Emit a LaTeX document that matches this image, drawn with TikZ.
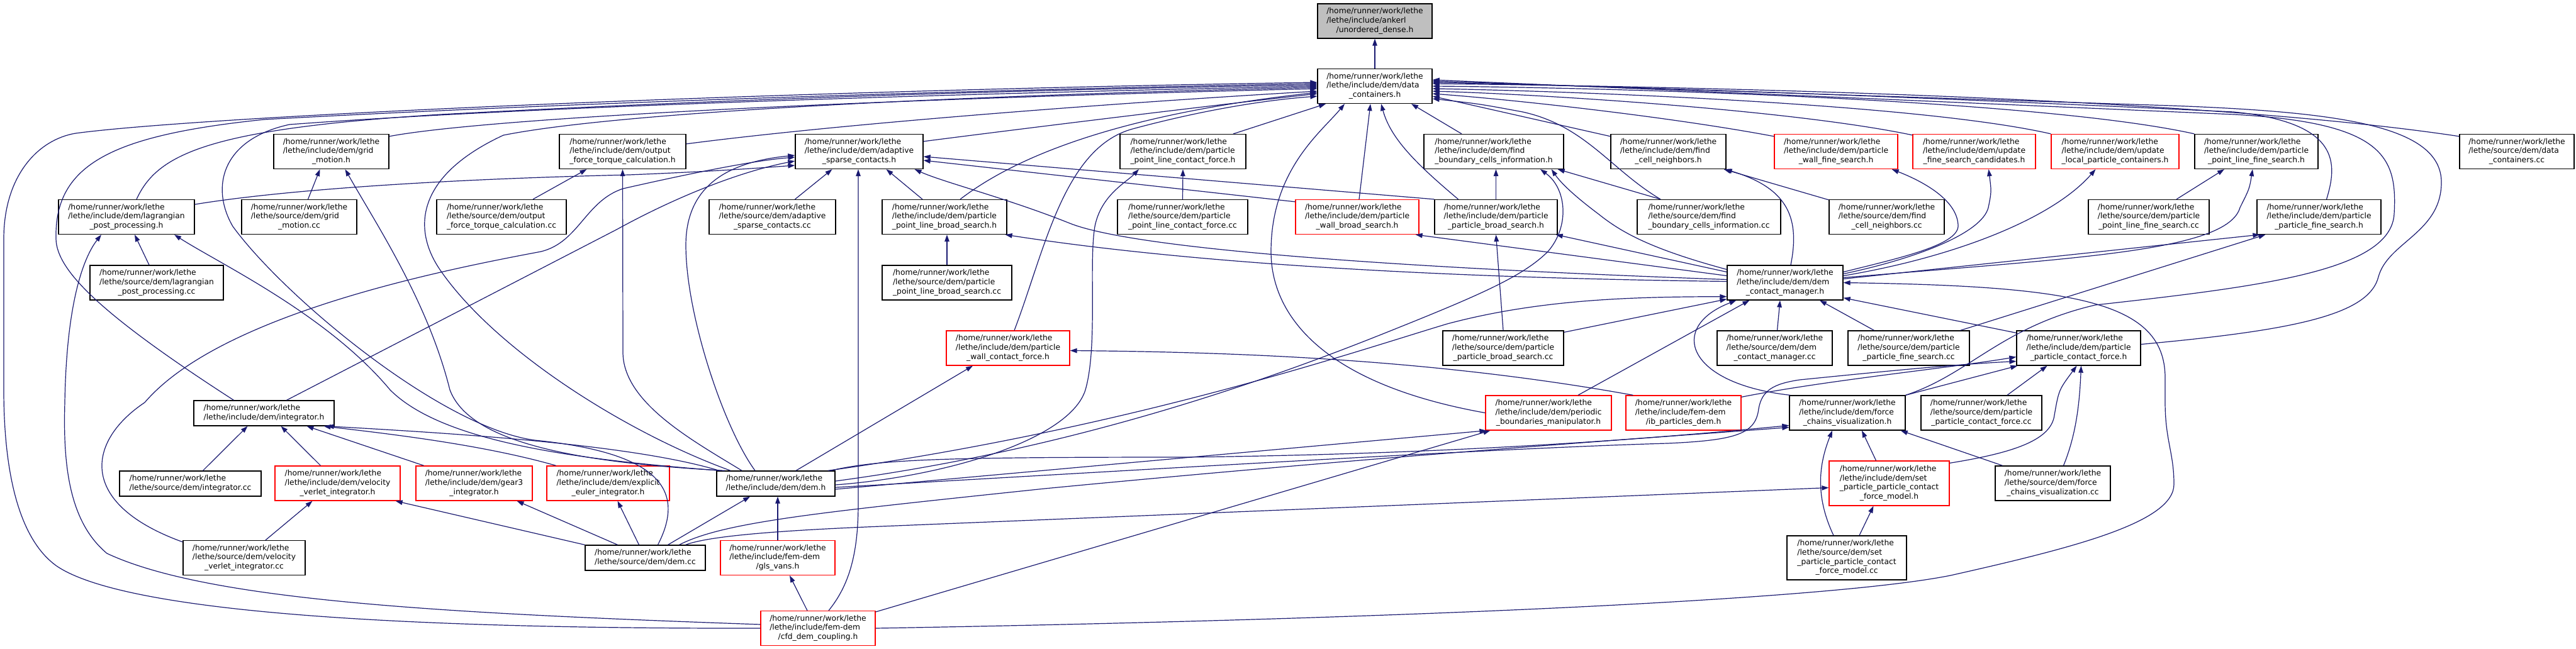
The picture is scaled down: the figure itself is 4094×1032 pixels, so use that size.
\documentclass[tikz,border=0pt]{standalone}
\usepackage{fontspec}
\setmainfont{DejaVu Sans}
\usetikzlibrary{arrows.meta}
\definecolor{edgeblue}{HTML}{191970}
\definecolor{nodegray}{HTML}{BFBFBF}
\newcommand\hm{/home/runner/work/lethe}
\newcommand\lbA[3]{\begin{tabular}{@{}l@{}}#1\\#2\\\multicolumn{1}{@{}c@{}}{#3}\end{tabular}}
\newcommand\lbB[2]{\begin{tabular}{@{}l@{}}#1\\#2\end{tabular}}
\newcommand\lbD[4]{\begin{tabular}{@{}l@{}}#1\\#2\\#3\\\multicolumn{1}{@{}c@{}}{#4}\end{tabular}}
\newcommand\nfont{\fontsize{12.3}{14.7}\selectfont}
\tikzset{
 nbox/.style={draw=black, fill=white, line width=1.3pt, inner sep=0pt, font=\nfont, minimum height=55pt, text=black},
 rbox/.style={nbox, draw=red},
 gbox/.style={nbox, fill=nodegray},
 dep/.style={draw=edgeblue, line width=1.2pt, -{Triangle[length=11pt,width=7.5pt]}}
}
\begin{document}
\begin{tikzpicture}[x=1pt,y=-1pt]
\useasboundingbox (0,0) rectangle (4094,1032);
\fill[white] (0,0) rectangle (4094,1032);
% ---------------- nodes
\node[gbox,minimum width=182pt] (ud) at (2185,33.5) {\lbA{\hm}{/lethe/include/ankerl}{/unordered\_dense.h}};
\node[nbox,minimum width=182pt] (dc) at (2185,137) {\lbA{\hm}{/lethe/include/dem/data}{\_containers.h}};
% row 2
\node[nbox,minimum width=183pt] (gm) at (526.5,241) {\lbA{\hm}{/lethe/include/dem/grid}{\_motion.h}};
\node[nbox,minimum width=201pt] (oftc) at (989.5,241) {\lbA{\hm}{/lethe/include/dem/output}{\_force\_torque\_calculation.h}};
\node[nbox,minimum width=203pt] (asc) at (1365.5,241) {\lbA{\hm}{/lethe/include/dem/adaptive}{\_sparse\_contacts.h}};
\node[nbox,minimum width=200pt] (plcf) at (1880,241) {\lbA{\hm}{/lethe/include/dem/particle}{\_point\_line\_contact\_force.h}};
\node[nbox,minimum width=222pt] (fbci) at (2374,241) {\lbA{\hm}{/lethe/include/dem/find}{\_boundary\_cells\_information.h}};
\node[nbox,minimum width=183pt] (fcn) at (2651.5,241) {\lbA{\hm}{/lethe/include/dem/find}{\_cell\_neighbors.h}};
\node[rbox,minimum width=196pt] (pwfs) at (2918,241) {\lbA{\hm}{/lethe/include/dem/particle}{\_wall\_fine\_search.h}};
\node[rbox,minimum width=195pt] (ufsc) at (3137.5,241) {\lbA{\hm}{/lethe/include/dem/update}{\_fine\_search\_candidates.h}};
\node[rbox,minimum width=203pt] (ulpc) at (3361.5,241) {\lbA{\hm}{/lethe/include/dem/update}{\_local\_particle\_containers.h}};
\node[nbox,minimum width=196pt] (plfs) at (3586,241) {\lbA{\hm}{/lethe/include/dem/particle}{\_point\_line\_fine\_search.h}};
\node[nbox,minimum width=182pt] (dccc) at (4000,241) {\lbA{\hm}{/lethe/source/dem/data}{\_containers.cc}};
% row 3
\node[nbox,minimum width=216pt] (lpp) at (201,345) {\lbA{\hm}{/lethe/include/dem/lagrangian}{\_post\_processing.h}};
\node[nbox,minimum width=183pt] (gmcc) at (475.5,345) {\lbA{\hm}{/lethe/source/dem/grid}{\_motion.cc}};
\node[nbox,minimum width=206pt] (oftccc) at (797,345) {\lbA{\hm}{/lethe/source/dem/output}{\_force\_torque\_calculation.cc}};
\node[nbox,minimum width=201pt] (asccc) at (1227.5,345) {\lbA{\hm}{/lethe/source/dem/adaptive}{\_sparse\_contacts.cc}};
\node[nbox,minimum width=198pt] (plbs) at (1501,345) {\lbA{\hm}{/lethe/include/dem/particle}{\_point\_line\_broad\_search.h}};
\node[nbox,minimum width=207pt] (plcfcc) at (1879.5,345) {\lbA{\hm}{/lethe/source/dem/particle}{\_point\_line\_contact\_force.cc}};
\node[rbox,minimum width=196pt] (pwbs) at (2157,345) {\lbA{\hm}{/lethe/include/dem/particle}{\_wall\_broad\_search.h}};
\node[nbox,minimum width=195pt] (ppbs) at (2377.5,345) {\lbA{\hm}{/lethe/include/dem/particle}{\_particle\_broad\_search.h}};
\node[nbox,minimum width=228pt] (fbcicc) at (2716,345) {\lbA{\hm}{/lethe/source/dem/find}{\_boundary\_cells\_information.cc}};
\node[nbox,minimum width=183pt] (fcncc) at (2998.5,345) {\lbA{\hm}{/lethe/source/dem/find}{\_cell\_neighbors.cc}};
\node[nbox,minimum width=192pt] (plfscc) at (3415,345) {\lbA{\hm}{/lethe/source/dem/particle}{\_point\_line\_fine\_search.cc}};
\node[nbox,minimum width=197pt] (ppfs) at (3685.5,345) {\lbA{\hm}{/lethe/include/dem/particle}{\_particle\_fine\_search.h}};
% row 4
\node[nbox,minimum width=212pt] (lppcc) at (249,449.5) {\lbA{\hm}{/lethe/source/dem/lagrangian}{\_post\_processing.cc}};
\node[nbox,minimum width=206pt] (plbscc) at (1505,449.5) {\lbA{\hm}{/lethe/source/dem/particle}{\_point\_line\_broad\_search.cc}};
\node[nbox,minimum width=184pt] (dcm) at (2837,449.5) {\lbA{\hm}{/lethe/include/dem/dem}{\_contact\_manager.h}};
% row 5
\node[rbox,minimum width=196pt] (pwcf) at (1602,553.5) {\lbA{\hm}{/lethe/include/dem/particle}{\_wall\_contact\_force.h}};
\node[nbox,minimum width=192pt] (ppbscc) at (2389,553.5) {\lbA{\hm}{/lethe/source/dem/particle}{\_particle\_broad\_search.cc}};
\node[nbox,minimum width=183pt] (dcmcc) at (2820.5,553.5) {\lbA{\hm}{/lethe/source/dem/dem}{\_contact\_manager.cc}};
\node[nbox,minimum width=193pt] (ppfscc) at (3033.5,553.5) {\lbA{\hm}{/lethe/source/dem/particle}{\_particle\_fine\_search.cc}};
\node[nbox,minimum width=197pt] (ppcf) at (3303.5,553.5) {\lbA{\hm}{/lethe/include/dem/particle}{\_particle\_contact\_force.h}};
% row 6
\node[nbox,minimum width=223pt,minimum height=40pt] (integ) at (419.5,657) {\lbB{\hm}{/lethe/include/dem/integrator.h}};
\node[rbox,minimum width=200pt] (pbm) at (2461,656.5) {\lbA{\hm}{/lethe/include/dem/periodic}{\_boundaries\_manipulator.h}};
\node[rbox,minimum width=183pt] (ibp) at (2675.5,656.5) {\lbA{\hm}{/lethe/include/fem-dem}{/ib\_particles\_dem.h}};
\node[nbox,minimum width=184pt] (fcv) at (2936,656.5) {\lbA{\hm}{/lethe/include/dem/force}{\_chains\_visualization.h}};
\node[nbox,minimum width=192pt] (ppcfcc) at (3149,656.5) {\lbA{\hm}{/lethe/source/dem/particle}{\_particle\_contact\_force.cc}};
% row 7
\node[nbox,minimum width=225pt,minimum height=40pt] (integcc) at (302.5,769) {\lbB{\hm}{/lethe/source/dem/integrator.cc}};
\node[rbox,minimum width=199pt] (vvi) at (536.5,768.5) {\lbA{\hm}{/lethe/include/dem/velocity}{\_verlet\_integrator.h}};
\node[rbox,minimum width=185pt] (g3) at (753.5,768.5) {\lbA{\hm}{/lethe/include/dem/gear3}{\_integrator.h}};
\node[rbox,minimum width=195pt] (eei) at (966.5,768.5) {\lbA{\hm}{/lethe/include/dem/explicit}{\_euler\_integrator.h}};
\node[nbox,minimum width=188pt,minimum height=40pt] (demh) at (1233,769) {\lbB{\hm}{/lethe/include/dem/dem.h}};
\node[rbox,minimum width=191pt,minimum height=71pt] (sppcfm) at (3002.5,768.5) {\lbD{\hm}{/lethe/include/dem/set}{\_particle\_particle\_contact}{\_force\_model.h}};
\node[nbox,minimum width=183pt] (fcvcc) at (3262.5,768.5) {\lbA{\hm}{/lethe/source/dem/force}{\_chains\_visualization.cc}};
% row 8
\node[nbox,minimum width=194pt] (vvicc) at (388,887) {\lbA{\hm}{/lethe/source/dem/velocity}{\_verlet\_integrator.cc}};
\node[nbox,minimum width=191pt,minimum height=40pt] (demcc) at (1025.5,887) {\lbB{\hm}{/lethe/source/dem/dem.cc}};
\node[rbox,minimum width=182pt] (gls) at (1236,887) {\lbA{\hm}{/lethe/include/fem-dem}{/gls\_vans.h}};
\node[nbox,minimum width=190pt,minimum height=70pt] (sppcfmcc) at (2935,887) {\lbD{\hm}{/lethe/source/dem/set}{\_particle\_particle\_contact}{\_force\_model.cc}};
% row 9
\node[rbox,minimum width=182pt] (cfd) at (1300,999) {\lbA{\hm}{/lethe/include/fem-dem}{/cfd\_dem\_coupling.h}};
% ---------------- edges
\draw[dep] (dc.north) -- (ud.south);
% into data_containers.h from the left
\draw[dep] ([xshift=16pt]lpp.north) .. controls (250,245) and (330,205) .. (700,182) .. controls (1300,150) and (1800,140) .. ([yshift=2pt]dc.west);
\draw[dep] ([xshift=-48pt]integ.north) .. controls (160,500) and (90,430) .. (89,380) .. controls (86,260) and (180,215) .. (420,190) .. controls (1000,158) and (1700,140) .. ([yshift=4pt]dc.west);
\draw[dep] (cfd.west) .. controls (650,1000) and (200,975) .. (90,900) .. controls (20,850) and (6,720) .. (6,620) -- (6,380) .. controls (6,280) and (60,222) .. (120,212) .. controls (320,185) and (1200,145) .. ([yshift=6pt]dc.west);
\draw[dep] ([yshift=-4pt]gm.north east) .. controls (760,190) and (1300,160) .. ([yshift=-4pt]dc.west);
\draw[dep] ([yshift=-16pt]oftc.north east) .. controls (1350,195) and (1800,162) .. ([yshift=-8pt]dc.west);
\draw[dep] ([yshift=-12pt]asc.north east) .. controls (1700,195) and (1950,165) .. ([yshift=-12pt]dc.west);
\draw[dep] ([xshift=25pt]plbs.north) .. controls (1600,260) and (1750,185) .. ([yshift=-10pt]dc.west);
\draw[dep] ([xshift=10pt]pwcf.north) .. controls (1660,400) and (1690,235) .. (1800,205) .. controls (1900,178) and (2000,160) .. ([yshift=-16pt]dc.west);
\draw[dep] ([xshift=20pt]demcc.north) .. controls (1090,780) and (1050,720) .. (850,700) .. controls (700,680) and (450,470) .. (370,360) .. controls (335,300) and (350,222) .. (460,198) .. controls (900,165) and (1700,145) .. (dc.west);
\draw[dep] ([xshift=-72pt]demh.north) .. controls (1000,690) and (790,560) .. (700,430) .. controls (655,365) and (660,280) .. (800,215) .. controls (1000,175) and (1600,150) .. ([yshift=-2pt]dc.west);
% into data_containers.h from below
\draw[dep] ([xshift=80pt]plcf.north) -- ([xshift=-78pt]dc.south);
\draw[dep] (pbm.west) .. controls (2100,610) and (2020,500) .. (2020,400) .. controls (2020,270) and (2100,210) .. ([xshift=-48pt]dc.south);
\draw[dep] ([xshift=3pt]pwbs.north) -- ([xshift=-7pt]dc.south);
\draw[dep] ([xshift=-60pt]ppbs.north) .. controls (2250,260) and (2210,220) .. ([xshift=10pt]dc.south);
\draw[dep] ([xshift=-51pt]fbci.north) -- ([xshift=58pt]dc.south);
% into data_containers.h from the right
\draw[dep] ([xshift=-77pt]fbcicc.north) .. controls (2560,270) and (2520,200) .. (2420,178) .. controls (2350,165) .. ([yshift=-20pt]dc.east);
\draw[dep] ([yshift=-4pt]fcn.north west) -- ([yshift=-16pt]dc.east);
\draw[dep] ([yshift=-4pt]pwfs.north west) .. controls (2650,185) and (2400,158) .. ([yshift=-12pt]dc.east);
\draw[dep] ([yshift=-2pt]ufsc.north west) .. controls (2850,175) and (2450,150) .. ([yshift=-8pt]dc.east);
\draw[dep] (ulpc.north west) .. controls (3050,165) and (2500,145) .. ([yshift=-4pt]dc.east);
\draw[dep] (plfs.north west) .. controls (3250,160) and (2600,140) .. (dc.east);
\draw[dep] ([yshift=-4pt]dccc.north west) .. controls (3500,155) and (2700,138) .. ([yshift=4pt]dc.east);
\draw[dep] ([xshift=12pt]ppfs.north) .. controls (3715,260) and (3720,195) .. (3550,178) .. controls (3000,152) and (2600,138) .. ([yshift=6pt]dc.east);
\draw[dep] ([yshift=6pt]ppcf.east) .. controls (3650,525) and (3765,500) .. (3780,440) .. controls (3795,385) and (3880,370) .. (3880,290) .. controls (3880,200) and (3720,178) .. (3450,168) .. controls (2900,150) .. ([yshift=8pt]dc.east);
\draw[dep] (fcv.north east) .. controls (3130,595) and (3180,520) .. (3330,485) .. controls (3600,455) and (3800,430) .. (3805,340) .. controls (3810,250) and (3790,195) .. (3550,182) .. controls (3000,158) .. ([yshift=10pt]dc.east);
% grid motion, output, adaptive
\draw[dep] ([xshift=14pt]gmcc.north) -- ([xshift=-18pt]gm.south);
\draw[dep] ([xshift=-81pt]demh.north) .. controls (900,735) and (745,700) .. (715,620) .. controls (680,480) and (600,360) .. ([xshift=22pt]gm.south);
\draw[dep] ([xshift=-88pt]demh.north) .. controls (900,730) and (700,700) .. (620,620) .. controls (520,500) and (350,420) .. ([xshift=76pt]lpp.south);
\draw[dep] ([xshift=50pt]oftccc.north) -- ([xshift=-57pt]oftc.south);
\draw[dep] ([xshift=-54pt]demh.north) .. controls (1100,700) and (990,640) .. (990,560) -- (oftc.south);
\draw[dep] ([xshift=36pt]asccc.north) -- ([xshift=-43pt]asc.south);
\draw[dep] ([xshift=17pt]cfd.north) .. controls (1350,930) and (1364,880) .. (1364,800) -- ([xshift=-1.5pt]asc.south);
\draw[dep] ([yshift=20pt]lpp.east) .. controls (450,302) and (700,285) .. (1000,278) .. controls (1150,272) and (1220,266) .. ([yshift=-22pt]asc.west);
\draw[dep] ([xshift=36pt]integ.north) -- (980,365) .. controls (1080,310) and (1180,272) .. ([yshift=-15pt]asc.west);
\draw[dep] ([yshift=-3pt]vvicc.north west) .. controls (120,800) and (140,700) .. (230,640) .. controls (350,500) and (700,430) .. (860,400) .. controls (920,385) and (930,320) .. (990,300) .. controls (1100,275) and (1200,255) .. ([yshift=-9pt]asc.west);
\draw[dep] ([xshift=-33pt]demh.north) .. controls (1150,680) and (1090,500) .. (1090,390) .. controls (1090,300) and (1150,258) .. ([yshift=-6pt]asc.west);
\draw[dep] ([xshift=-35pt]plbs.north) -- ([xshift=43pt]asc.south);
\draw[dep] ([yshift=-4pt]pwbs.north west) -- ([yshift=-14pt]asc.east);
\draw[dep] (ppbs.north west) -- ([yshift=-8pt]asc.east);
\draw[dep] ([yshift=5pt]dcm.west) .. controls (2200,425) and (1800,395) .. (1700,355) .. controls (1600,315) and (1500,290) .. ([xshift=88pt]asc.south);
% point-line contact force, boundary cells
\draw[dep] (plcfcc.north) -- (plcf.south);
\draw[dep] ([yshift=-2pt]demh.east) .. controls (1500,758) and (1700,700) .. (1725,620) .. controls (1745,550) and (1730,420) .. (1740,360) .. controls (1750,310) and (1790,290) .. ([xshift=-70pt]plcf.south);
\draw[dep] (ppbs.north) -- ([xshift=3.5pt]fbci.south);
\draw[dep] ([yshift=4pt]demh.east) .. controls (1700,715) and (2000,610) .. (2200,530) .. controls (2350,470) and (2420,440) .. (2460,400) .. controls (2495,360) and (2490,300) .. ([xshift=74pt]fbci.south);
\draw[dep] ([xshift=-77pt]fbcicc.north) -- ([xshift=-10pt]fbci.south east);
\draw[dep] ([yshift=21pt]dcm.west) .. controls (2620,395) and (2575,368) .. (2540,340) .. controls (2500,310) and (2480,290) .. ([xshift=-20pt]fbci.south east);
% cell neighbours, fine searches
\draw[dep] ([yshift=-1pt]fcncc.north west) -- ([xshift=-4pt]fcn.south east);
\draw[dep] ([xshift=9pt]dcm.north) .. controls (2860,350) and (2845,300) .. ([xshift=-2pt]fcn.south east);
\draw[dep] ([yshift=17pt]dcm.east) .. controls (3020,410) and (3110,390) .. (3112,360) .. controls (3112,320) and (3060,290) .. ([xshift=-10pt]pwfs.south east);
\draw[dep] ([yshift=14pt]dcm.east) .. controls (3050,410) and (3150,370) .. (3160,330) .. controls (3165,305) .. ([xshift=23pt]ufsc.south);
\draw[dep] ([yshift=11pt]dcm.east) .. controls (3100,410) and (3260,350) .. ([xshift=-31pt]ulpc.south);
\draw[dep] ([yshift=8pt]dcm.east) .. controls (3300,410) and (3540,400) .. (3560,330) .. controls (3575,300) .. ([xshift=-6pt]plfs.south);
\draw[dep] ([xshift=44pt]plfscc.north) -- ([xshift=-51pt]plfs.south);
\draw[dep] ([yshift=6pt]dcm.east) -- ([xshift=5pt]ppfs.south west);
\draw[dep] ([xshift=-15pt]ppfscc.north east) -- ([xshift=14pt]ppfs.south west);
% lagrangian post processing
\draw[dep] ([xshift=-12pt]lppcc.north) -- ([xshift=13pt]lpp.south);
\draw[dep] ([yshift=6pt]cfd.west) .. controls (700,975) and (330,955) .. (170,880) .. controls (110,830) and (100,740) .. (103,640) .. controls (106,460) and (140,400) .. ([xshift=-40pt]lpp.south);
% broad searches
\draw[dep] (plbscc.north) -- ([xshift=4pt]plbs.south);
\draw[dep] ([yshift=2pt]dcm.west) .. controls (2300,442) and (1900,420) .. ([xshift=-3pt]plbs.south east);
\draw[dep] ([yshift=11pt]dcm.west) -- ([xshift=-6pt]pwbs.south east);
\draw[dep] ([yshift=17pt]dcm.west) -- ([xshift=-3pt]ppbs.south east);
\draw[dep] (ppbscc.north) -- (ppbs.south);
% into dem_contact_manager.h
\draw[dep] ([yshift=-3pt]ppbscc.north east) -- ([yshift=2pt]dcm.south west);
\draw[dep] ([xshift=47pt]pbm.north) -- ([xshift=36pt]dcm.south west);
\draw[dep] ([xshift=83pt]demh.north) .. controls (1800,680) and (2150,560) .. (2300,515) .. controls (2450,475) and (2600,472) .. ([yshift=6pt]dcm.south west);
\draw[dep] ([xshift=4pt]dcmcc.north) -- ([xshift=-8pt]dcm.south);
\draw[dep] ([xshift=-55pt]ppfscc.north) -- ([xshift=55pt]dcm.south);
\draw[dep] ([yshift=-4pt]ppcf.north west) -- ([yshift=4pt]dcm.south east);
\draw[dep] (cfd.east) .. controls (2200,985) and (2900,955) .. (3100,915) .. controls (3300,870) and (3455,830) .. (3455,770) .. controls (3455,720) and (3441,700) .. (3441,640) -- (3441,600) .. controls (3440,480) and (3300,455) .. (dcm.east);
\draw[dep] ([xshift=-91pt]fcv.north) .. controls (2680,610) and (2650,520) .. ([xshift=15pt]dcm.south west);
% wall / particle contact forces
\draw[dep] ([xshift=32pt]demh.north) -- ([xshift=-56pt]pwcf.south);
\draw[dep] ([xshift=12pt]ibp.north west) .. controls (2300,575) and (2000,560) .. ([yshift=-4pt]pwcf.east);
\draw[dep] ([yshift=-3pt]ibp.north east) .. controls (2900,605) and (3100,585) .. ([yshift=-14pt]ppcf.west);
\draw[dep] (fcv.north east) -- ([xshift=2pt]ppcf.south west);
\draw[dep] ([xshift=41pt]ppcfcc.north) -- ([xshift=-50pt]ppcf.south);
\draw[dep] ([yshift=-4pt]sppcfm.north east) .. controls (3200,720) and (3260,700) .. (3265,660) .. controls (3272,620) .. ([xshift=-3pt]ppcf.south);
\draw[dep] ([xshift=17pt]fcvcc.north) .. controls (3300,690) and (3305,640) .. ([xshift=4pt]ppcf.south);
\draw[dep] ([yshift=-6pt]demh.east) .. controls (1900,742) and (2400,712) .. (2650,705) .. controls (2760,700) and (2790,690) .. (2795,650) .. controls (2800,620) and (2820,610) .. (2860,604) .. controls (3000,590) and (3100,580) .. ([yshift=-21pt]ppcf.west);
% periodic boundaries, force chains
\draw[dep] ([yshift=-9pt]demh.east) -- ([xshift=2pt]pbm.south west);
\draw[dep] ([yshift=26pt]cfd.east) -- ([xshift=8pt]pbm.south west);
\draw[dep] ([xshift=87pt]demh.north) .. controls (1400,730) and (1500,727) .. (1886,727) .. controls (2300,722) and (2600,700) .. ([yshift=-20pt]fcv.west);
\draw[dep] ([xshift=54pt]demcc.north) .. controls (1150,830) and (1300,815) .. (1660,777) .. controls (2200,725) and (2600,698) .. ([yshift=-23pt]fcv.west);
\draw[dep] ([xshift=-21pt]sppcfmcc.north) .. controls (2885,790) and (2890,740) .. ([xshift=-24pt]fcv.south);
\draw[dep] ([xshift=-21pt]sppcfm.north) -- ([xshift=23pt]fcv.south);
\draw[dep] ([xshift=-80pt]fcvcc.north) -- ([xshift=-8pt]fcv.south east);
\draw[dep] ([xshift=64pt]demcc.north) .. controls (1120,855) and (1200,845) .. (1400,837) -- ([yshift=-7pt]sppcfm.west);
\draw[dep] ([xshift=20pt]sppcfmcc.north) -- ([xshift=-25pt]sppcfm.south);
% integrators
\draw[dep] ([xshift=20pt]integcc.north) -- ([xshift=-26pt]integ.south);
\draw[dep] ([xshift=-27pt]vvi.north) -- ([xshift=27pt]integ.south);
\draw[dep] ([xshift=-80pt]g3.north) -- ([xshift=68pt]integ.south);
\draw[dep] ([xshift=-83pt]eei.north) .. controls (760,705) and (600,688) .. ([xshift=95pt]integ.south);
\draw[dep] ([xshift=-90pt]demh.north) .. controls (1000,705) and (700,688) .. ([xshift=100pt]integ.south);
\draw[dep] ([xshift=34pt]vvicc.north) -- ([xshift=-40pt]vvi.south);
\draw[dep] (demcc.north west) -- ([xshift=-8pt]vvi.south east);
\draw[dep] ([xshift=-44pt]demcc.north) -- ([xshift=68pt]g3.south);
\draw[dep] ([xshift=-10pt]demcc.north) -- ([xshift=15pt]eei.south);
\draw[dep] ([xshift=36pt]demcc.north) -- ([xshift=-41pt]demh.south);
\draw[dep] (gls.north) -- ([xshift=3pt]demh.south);
\draw[dep] ([xshift=-17pt]cfd.north) -- ([xshift=19pt]gls.south);
\end{tikzpicture}
\end{document}
